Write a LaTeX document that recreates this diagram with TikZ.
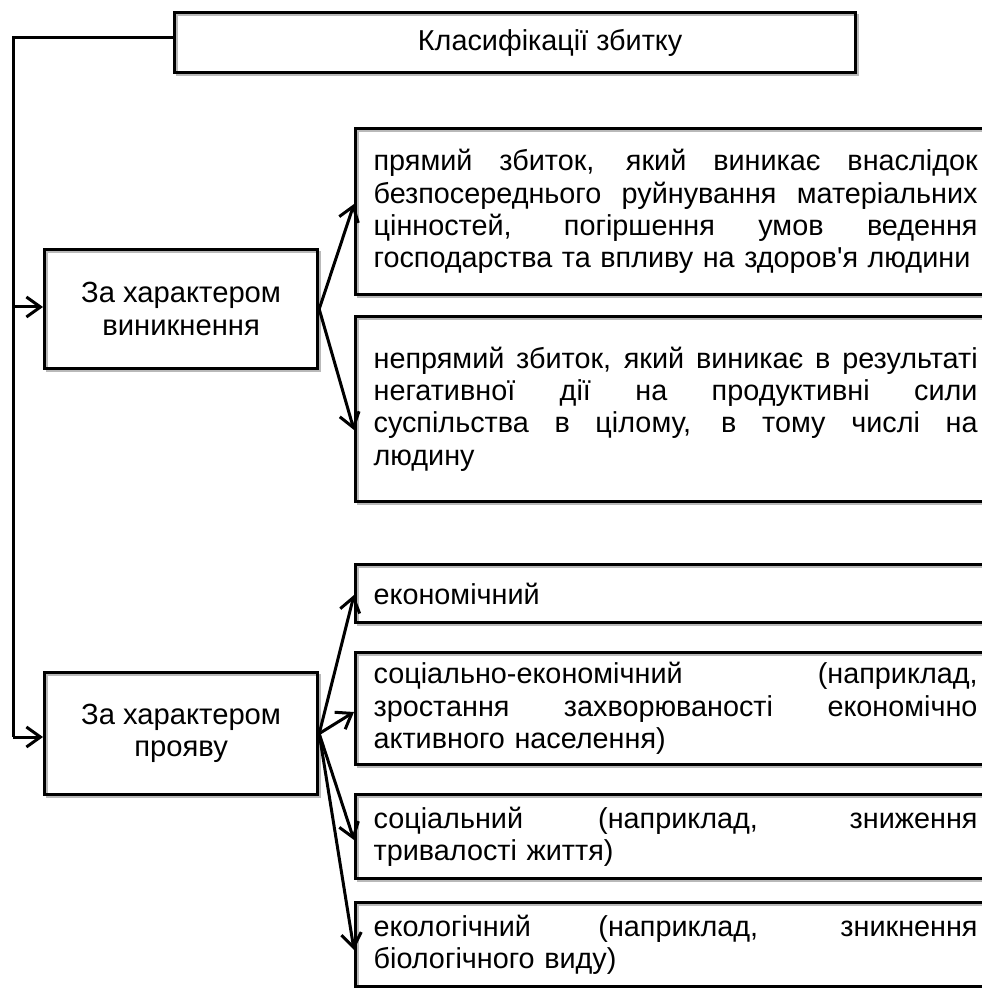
\documentclass[tikz,border=0pt]{standalone}
\usepackage{fontspec}
\setmainfont{Liberation Sans}[Ligatures=TeXOff]
\usetikzlibrary{arrows.meta}
\newcommand{\jl}[1]{\leavevmode{\spaceskip=0.28em plus 1fill\relax\hbox to 302pt{#1}}}
\begin{document}
\begin{tikzpicture}[x=0.5pt,y=-0.5pt,
  box/.style={draw, line width=1.6pt, inner sep=0pt, anchor=north west,
    font=\fontsize{14.4pt}{16.2pt}\selectfont,
    preaction={draw=gray!55, line width=1pt, transform canvas={xshift=1pt,yshift=-1pt}}},
  catbox/.style={box, minimum width=136.5pt, align=center, font=\fontsize{14.6pt}{16.2pt}\selectfont},
  itembox/.style={box, minimum width=320pt, text width=302pt, inner xsep=8pt, align=left},
  conn/.style={line width=1.5pt},
  arr/.style={conn, -{Straight Barb[length=7pt,width=10pt,line width=1.5pt]}}]
\useasboundingbox (0,0) rectangle (981,988);

% top box
\node[box, minimum width=340.5pt, minimum height=30pt] (top) at (173,11)
  {\hspace*{35pt}Класифікації збитку};

% category boxes
\node[catbox, minimum height=59.5pt] (c1) at (43,248) {За характером\\виникнення};
\node[catbox, minimum height=61pt] (c2) at (43,671) {За характером\\прояву};

% item boxes
\node[itembox, minimum height=83pt] (a) at (354,127)
  {\jl{прямий збиток, який виникає внаслідок}\\
   \jl{безпосереднього руйнування матеріальних}\\
   \jl{цінностей, погіршення умов ведення}\\
   господарства та впливу на здоров'я людини};
\node[itembox, minimum height=92.5pt] (b) at (354,315)
  {\jl{непрямий збиток, який виникає в результаті}\\
   \jl{негативної дії на продуктивні сили}\\
   \jl{суспільства в цілому, в тому числі на}\\
   людину};
\node[itembox, minimum height=29pt] (e1) at (354,563) {економічний};
\node[itembox, minimum height=56pt] (e2) at (354,651)
  {\jl{соціально-економічний (наприклад,}\\
   \jl{зростання захворюваності економічно}\\
   активного населення)};
\node[itembox, minimum height=42pt] (e3) at (354,793)
  {\jl{соціальний (наприклад, зниження}\\
   тривалості життя)};
\node[itembox, minimum height=42pt] (e4) at (354,901)
  {\jl{екологічний (наприклад, зникнення}\\
   біологічного виду)};

% connector coordinates
\coordinate (corner) at (13,38);
\coordinate (branch1) at (13,307);
\coordinate (corner2) at (13,737);
\coordinate (ta) at (354,204);
\coordinate (tb) at (354,430);
\coordinate (t1) at (354,595);
\coordinate (t2) at (354,712);
\coordinate (t3) at (354,840);
\coordinate (t4) at (354,950);

% left trunk
\draw[conn, line join=miter] (top.west |- corner) -- (corner) -- (corner2);
\draw[arr] (corner2) -- (c2.west |- corner2);
\draw[arr] (branch1) -- (c1.west |- branch1);

% branches
\draw[arr] (c1.east) -- (ta);
\draw[arr] (c1.east) -- (tb);
\draw[arr] (c2.east) -- (t1);
\draw[arr] (c2.east) -- (t2);
\draw[arr] (c2.east) -- (t3);
\draw[arr] (c2.east) -- (t4);
\end{tikzpicture}
\end{document}
